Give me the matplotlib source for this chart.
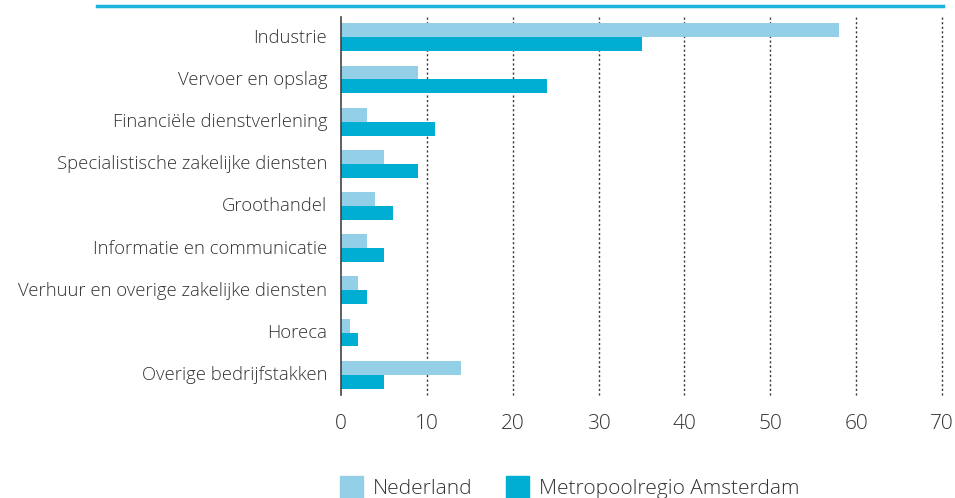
import numpy as np
import matplotlib
matplotlib.use('Agg')
import matplotlib.pyplot as plt
from matplotlib.patches import Patch
from matplotlib.lines import Line2D

plt.rcParams['font.family'] = ['Open Sans', 'DejaVu Sans']
plt.rcParams['font.weight'] = 'light'

# --- data ---
sectors = [
    "Industrie",
    "Vervoer en opslag",
    "Financiële dienstverlening",
    "Specialistische zakelijke diensten",
    "Groothandel",
    "Informatie en communicatie",
    "Verhuur en overige zakelijke diensten",
    "Horeca",
    "Overige bedrijfstakken",
]
nederland = [58, 9, 3, 5, 4, 3, 2, 1, 14]
mra = [35, 24, 11, 9, 6, 5, 3, 2, 5]
series_names = ["Nederland", "Metropoolregio Amsterdam"]
xticks = [0, 10, 20, 30, 40, 50, 60, 70]

light_blue = '#93CFE6'
dark_blue = '#00AED4'
text_col = '#333333'

fig = plt.figure(figsize=(9.55, 4.98), dpi=100)
ax = fig.add_axes([341/955, 103/498, 601/955, 378/498])

y = np.arange(len(sectors))
h = 0.33
ax.barh(y - h/2, nederland, height=h, color=light_blue, zorder=2)
ax.barh(y + h/2, mra, height=h, color=dark_blue, zorder=2)

ax.set_xlim(0, 70)
ax.set_ylim(len(sectors) - 0.52, -0.48)
ax.set_yticks(y - 0.04)
ax.set_yticklabels(sectors, fontsize=13.3, color=text_col)
ax.set_xticks(xticks)
ax.set_xticklabels([str(t) for t in xticks], fontsize=15, color=text_col)
ax.tick_params(length=0)
ax.tick_params(axis='x', pad=14)
ax.tick_params(axis='y', pad=10)

for t in xticks[1:]:
    ax.axvline(t, color='#333333', lw=1, ls=(0, (1.5, 1.8)), zorder=1, clip_on=False)

for s in ['top', 'right', 'bottom']:
    ax.spines[s].set_visible(False)
ax.spines['left'].set_color('#444444')
ax.spines['left'].set_linewidth(1.2)

# cyan rule across the top
fig.add_artist(Line2D([97/955, 943/955], [1 - 6/498, 1 - 6/498],
                      color='#1AB4DC', lw=2.5, transform=fig.transFigure))

handles = [Patch(color=light_blue), Patch(color=dark_blue)]
leg = fig.legend(handles, series_names, loc='lower left',
                 bbox_to_anchor=(321/955, -0.04), ncol=2, frameon=False,
                 fontsize=15, handlelength=1.1, handleheight=1.2,
                 handletextpad=0.5, columnspacing=1.6)
for txt in leg.get_texts():
    txt.set_color(text_col)

fig.savefig('out.png', dpi=100)
